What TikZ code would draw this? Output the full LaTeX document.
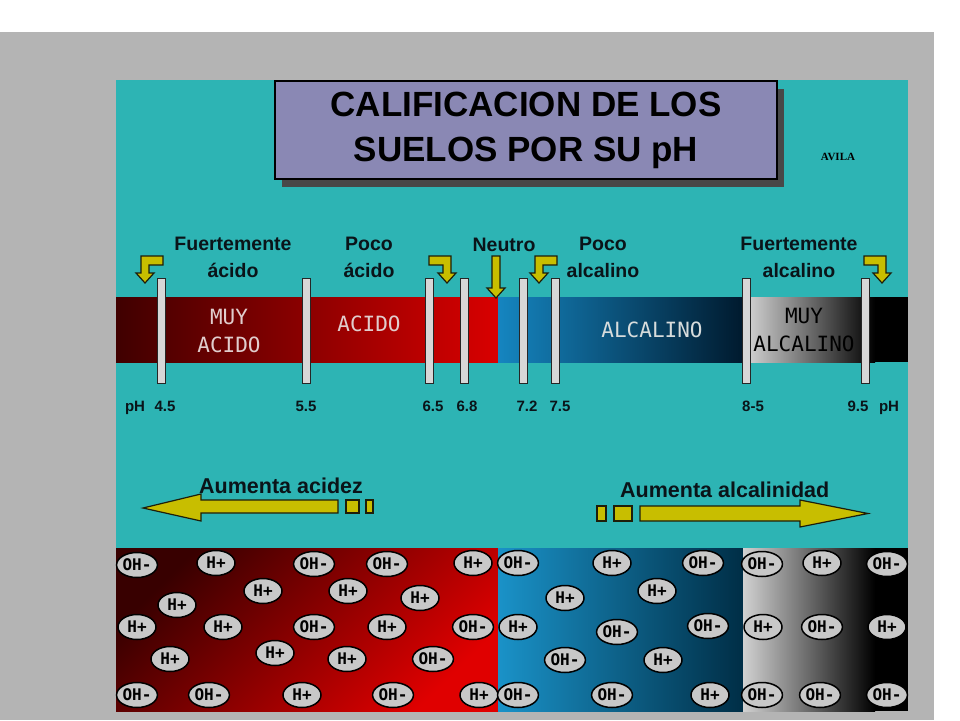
\documentclass[tikz,border=0pt]{standalone}
\usepackage{fontspec}
\setmainfont{Liberation Sans}
\setmonofont{DejaVu Sans Mono}
\newfontfamily\avilafont{Liberation Serif}
\usepackage{tikz}
\usetikzlibrary{calc, shapes, shadows}

\definecolor{FrameGray}{RGB}{180,180,180}
\definecolor{Teal}{RGB}{45,180,180}
\definecolor{TitleLav}{RGB}{138,136,180}
\definecolor{ShadowGray}{RGB}{72,72,72}
\definecolor{TextDark}{RGB}{10,20,25}
\definecolor{ArrowYellow}{RGB}{200,190,0}
\definecolor{ArrowEdge}{RGB}{30,30,10}
\definecolor{MarkFill}{RGB}{215,215,215}
\definecolor{IonGray}{RGB}{200,200,200}
\definecolor{AcidText}{RGB}{225,205,205}
\definecolor{AlkText}{RGB}{215,220,220}

\begin{document}
\begin{tikzpicture}[x=1pt, y=-1pt]

% Page and frames
\useasboundingbox (0,0) rectangle (960,720);
\fill[white] (0,0) rectangle (960,720);
\fill[FrameGray] (0,32) rectangle (934,720);
\fill[Teal] (116,80) rectangle (908,548);

% Text styles
\tikzset{lbl/.style={inner sep = 0, align = center, text = TextDark, font = \fontsize{19.5}{27}\selectfont\bfseries}}
\tikzset{phlbl/.style={inner sep = 0, anchor = base, text = TextDark, font = \fontsize{15}{15}\selectfont\bfseries}}
\tikzset{bartxt/.style={inner sep = 0, align = center, text = AcidText, font = \ttfamily\fontsize{21}{28}\selectfont}}
\tikzset{arrlbl/.style={inner sep = 0, text = TextDark, font = \fontsize{21.5}{21.5}\selectfont\bfseries}}

% Shape styles
\tikzset{titlebox/.style={draw = black, line width = 1.2pt, fill = TitleLav, minimum width = 502pt, minimum height = 98pt, align = center, font = \fontsize{35}{45}\selectfont\bfseries, drop shadow = {shadow xshift = 7pt, shadow yshift = -8pt, fill = ShadowGray, opacity = 1}}}
\tikzset{marker/.style={draw = black!85, fill = MarkFill, line width = 1pt, minimum width = 8pt, minimum height = 105pt, inner sep = 0}}
\tikzset{yArrow/.style={fill = ArrowYellow, draw = ArrowEdge, line width = 1.2pt}}
\tikzset{ion/.style={ellipse, draw = black, line width = 1.5pt, fill = IonGray, minimum width = 38pt, minimum height = 25pt, inner sep = 0, font = \ttfamily\bfseries\fontsize{16}{16}\selectfont}}

% Title
\node (title) [titlebox] at (526,130) {CALIFICACION DE LOS\\SUELOS POR SU pH};
\node (avila) [inner sep = 0, font = \avilafont\fontsize{11}{11}\selectfont\bfseries] at (838,157) {AVILA};

% pH bar
\shade[left color = red!25!black, middle color = red!40!black, right color = red!85!black] (116,297) rectangle (498,362);
\shade[left color = {rgb,255:red,21;green,133;blue,192}, middle color = {rgb,255:red,12;green,100;blue,150}, right color = {rgb,255:red,0;green,26;blue,46}] (498,297) rectangle (743,362);
\shade[left color = black!15, middle color = black!45, right color = black] (743,297) rectangle (875,362);
\fill[black] (875,297) rectangle (908,362);

\node (muyacido) [bartxt] at (229,331) {MUY\\ACIDO};
\node (acido) [bartxt] at (369,324) {ACIDO};
\node (alcalino) [bartxt, text = AlkText] at (652,330) {ALCALINO};
\node (muyalc) [bartxt, text = black] at (804,330) {MUY\\ALCALINO};

% Markers
\node (m45) [marker] at (161,330.5) {};
\node (m55) [marker] at (306,330.5) {};
\node (m65) [marker] at (429,330.5) {};
\node (m68) [marker] at (464,330.5) {};
\node (m72) [marker] at (523,330.5) {};
\node (m75) [marker] at (555,330.5) {};
\node (m85) [marker] at (746,330.5) {};
\node (m95) [marker] at (865,330.5) {};

% pH values
\node (phL) [phlbl] at (135,411) {pH};
\path let \p1 = (m45) in node (l45) [phlbl] at ($ (\x1, 411) + (4, 0) $) {4.5};
\path let \p1 = (m55) in node (l55) [phlbl] at ($ (\x1, 411) + (0, 0) $) {5.5};
\path let \p1 = (m65) in node (l65) [phlbl] at ($ (\x1, 411) + (4, 0) $) {6.5};
\path let \p1 = (m68) in node (l68) [phlbl] at ($ (\x1, 411) + (3, 0) $) {6.8};
\path let \p1 = (m72) in node (l72) [phlbl] at ($ (\x1, 411) + (4, 0) $) {7.2};
\path let \p1 = (m75) in node (l75) [phlbl] at ($ (\x1, 411) + (5, 0) $) {7.5};
\path let \p1 = (m85) in node (l85) [phlbl] at ($ (\x1, 411) + (7, 0) $) {8-5};
\path let \p1 = (m95) in node (l95) [phlbl] at ($ (\x1, 411) + (-7, 0) $) {9.5};
\node (phR) [phlbl] at (889,411) {pH};

% Class labels
\node (fa) [lbl] at (233,257.5) {Fuertemente\\ácido};
\node (pa) [lbl] at (369,257.5) {Poco\\ácido};
\node (ne) [lbl] at (504,245) {Neutro};
\node (pl) [lbl] at (603,257.5) {Poco\\alcalino};
\node (fl) [lbl] at (799,257.5) {Fuertemente\\alcalino};

% Bent arrows
\coordinate (t45) at (145,283);
\coordinate (t65) at (447,283);
\coordinate (tne) at (496,298);
\coordinate (t72) at (539,283);
\coordinate (t95) at (882,283);

\draw[yArrow] (t45) -- ++(-9,-10) -- ++(5,0) -- ++(0,-17) -- ++(22,0) -- ++(0,9) -- ++(-14,0) -- ++(0,8) -- ++(5,0) -- cycle;
\draw[yArrow] (t65) -- ++(9,-10) -- ++(-5,0) -- ++(0,-17) -- ++(-22,0) -- ++(0,9) -- ++(14,0) -- ++(0,8) -- ++(-5,0) -- cycle;
\draw[yArrow] (tne) -- ++(-9,-10) -- ++(5,0) -- ++(0,-32) -- ++(8,0) -- ++(0,32) -- ++(5,0) -- cycle;
\draw[yArrow] (t72) -- ++(-9,-10) -- ++(5,0) -- ++(0,-17) -- ++(22,0) -- ++(0,9) -- ++(-14,0) -- ++(0,8) -- ++(5,0) -- cycle;
\draw[yArrow] (t95) -- ++(9,-10) -- ++(-5,0) -- ++(0,-17) -- ++(-22,0) -- ++(0,9) -- ++(14,0) -- ++(0,8) -- ++(-5,0) -- cycle;

% Trend arrows
\coordinate (acTip) at (143,508);
\coordinate (alTip) at (868,513.5);

\draw[yArrow] (acTip) -- ++(58,-14) -- ++(0,6) -- ++(137,0) -- ++(0,13) -- ++(-137,0) -- ++(0,8) -- cycle;
\draw[yArrow] (346,500) rectangle (359,513);
\draw[yArrow] (366,500) rectangle (373,513);

\draw[yArrow] (alTip) -- ++(-68,-13.5) -- ++(0,6) -- ++(-160,0) -- ++(0,15) -- ++(160,0) -- ++(0,6) -- cycle;
\draw[yArrow] (614,506) rectangle (632,521);
\draw[yArrow] (597,506) rectangle (606,521);

\node (acidez) [arrlbl, anchor = base west] at (199,493) {Aumenta acidez};
\node (alcal) [arrlbl, anchor = base west] at (620,497) {Aumenta alcalinidad};

% Ion panels
\shade[top color = red!22!black, bottom color = red!88!black, shading angle = 45] (116,548) rectangle (498,711);
\shade[left color = {rgb,255:red,26;green,146;blue,200}, middle color = {rgb,255:red,12;green,100;blue,145}, right color = {rgb,255:red,0;green,46;blue,70}] (498,548) rectangle (743,711);
\shade[left color = black!18, middle color = black!40, right color = black] (743,548) rectangle (875,711);
\fill[black] (875,548) rectangle (908,711);

% Ions, acid side
\node (i1) [ion] at (137,565) {OH-};
\node (i2) [ion] at (216,563) {H+};
\node (i3) [ion] at (314,564) {OH-};
\node (i4) [ion] at (387,564) {OH-};
\node (i5) [ion] at (473,563) {H+};
\node (i6) [ion] at (263,591) {H+};
\node (i7) [ion] at (348,591) {H+};
\node (i8) [ion] at (420,598) {H+};
\node (i9) [ion] at (177,605) {H+};
\node (i10) [ion] at (137,627) {H+};
\node (i11) [ion] at (223,627) {H+};
\node (i12) [ion] at (314,627) {OH-};
\node (i13) [ion] at (387,627) {H+};
\node (i14) [ion] at (473,627) {OH-};
\node (i15) [ion] at (275,653) {H+};
\node (i16) [ion] at (170,659) {H+};
\node (i17) [ion] at (347,659) {H+};
\node (i18) [ion] at (433,659) {OH-};
\node (i19) [ion] at (137,695) {OH-};
\node (i20) [ion] at (209,695) {OH-};
\node (i21) [ion] at (302,695) {H+};
\node (i22) [ion] at (393,695) {OH-};
\node (i23) [ion] at (479,695) {H+};

% Ions, alkaline side
\node (i24) [ion] at (518,563) {OH-};
\node (i25) [ion] at (612,563) {H+};
\node (i26) [ion] at (703,563) {OH-};
\node (i27) [ion] at (565,598) {H+};
\node (i28) [ion] at (657,591) {H+};
\node (i29) [ion] at (518,627) {H+};
\node (i30) [ion] at (617,632) {OH-};
\node (i31) [ion] at (708,626) {OH-};
\node (i32) [ion] at (565,660) {OH-};
\node (i33) [ion] at (663,660) {H+};
\node (i34) [ion] at (518,695) {OH-};
\node (i35) [ion] at (612,695) {OH-};
\node (i36) [ion] at (710,695) {H+};

% Ions, strongly alkaline side
\node (i37) [ion] at (762,564) {OH-};
\node (i38) [ion] at (822,563) {H+};
\node (i39) [ion] at (887,564) {OH-};
\node (i40) [ion] at (763,627) {H+};
\node (i41) [ion] at (822,627) {OH-};
\node (i42) [ion] at (887,627) {H+};
\node (i43) [ion] at (762,695) {OH-};
\node (i44) [ion] at (820,695) {OH-};
\node (i45) [ion] at (887,695) {OH-};

\end{tikzpicture}
\end{document}
